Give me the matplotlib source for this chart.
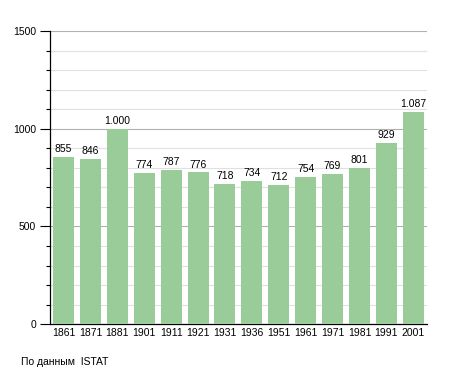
import matplotlib
matplotlib.use("Agg")
import matplotlib.pyplot as plt
from matplotlib.ticker import MultipleLocator

plt.rcParams["font.family"] = ["Liberation Sans", "DejaVu Sans"]

years = ["1861", "1871", "1881", "1901", "1911", "1921", "1931",
         "1936", "1951", "1961", "1971", "1981", "1991", "2001"]
population = [855, 846, 1000, 774, 787, 776, 718, 734, 712, 754, 769, 801, 929, 1087]
labels = ["855", "846", "1.000", "774", "787", "776", "718",
          "734", "712", "754", "769", "801", "929", "1.087"]

fig = plt.figure(figsize=(4.55, 3.73), dpi=100)
ax = fig.add_axes([0.110, 0.131, 0.828, 0.786])

x = range(len(years))
ax.bar(x, population, width=0.78, color="#99cc99", zorder=3)
for i, (v, lab) in enumerate(zip(population, labels)):
    ax.text(i, v + 15, lab, ha="center", va="bottom", fontsize=7.5, zorder=4)

ax.set_xlim(-0.5, len(years) - 0.5)
ax.set_ylim(0, 1500)
ax.set_xticks(list(x))
ax.set_xticklabels(years, fontsize=7.5)
ax.yaxis.set_major_locator(MultipleLocator(500))
ax.yaxis.set_minor_locator(MultipleLocator(100))
ax.tick_params(axis="y", which="major", direction="out", length=7, labelsize=7.5, width=0.8, pad=3)
ax.tick_params(axis="y", which="minor", direction="out", length=3, width=0.8)
ax.tick_params(axis="x", length=0, pad=3)

ax.grid(axis="y", which="minor", color="#e0e0e0", linewidth=0.8, zorder=0)
ax.grid(axis="y", which="major", color="#b0b0b0", linewidth=0.8, zorder=0)

for s in ["top", "right"]:
    ax.spines[s].set_visible(False)
ax.spines["left"].set_linewidth(0.9)
ax.spines["bottom"].set_linewidth(0.9)

fig.text(21 / 455, 1 - 362 / 373, "По данным  ISTAT", fontsize=7.5, va="center")

fig.savefig("out.png", dpi=100)
